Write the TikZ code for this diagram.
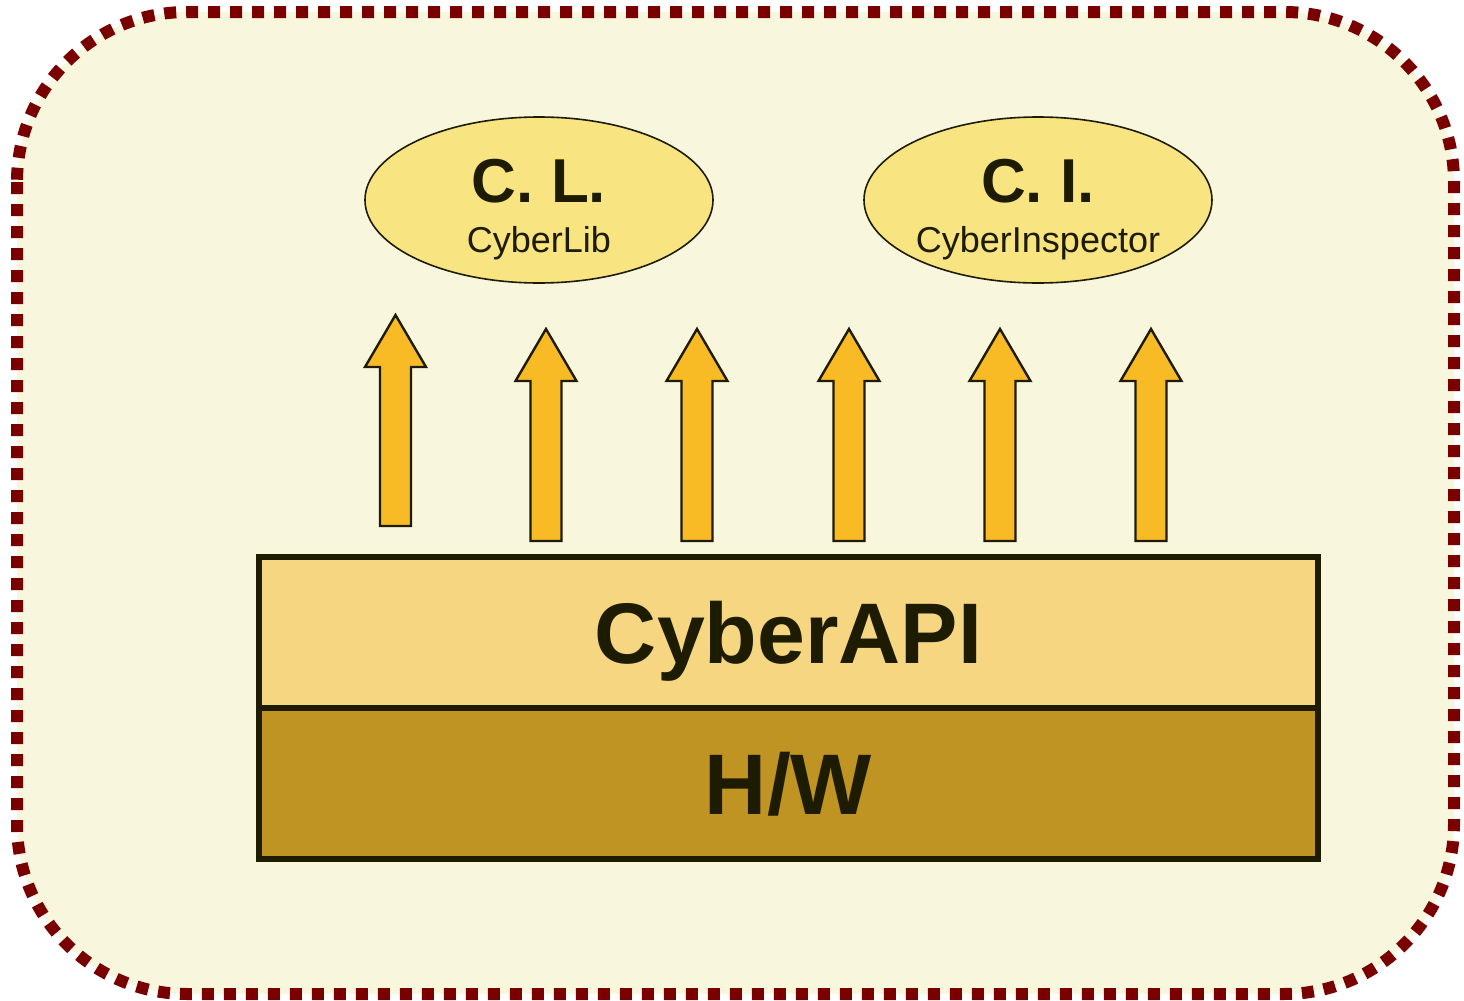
\documentclass[tikz,border=0pt]{standalone}
\usepackage{fontspec}
\setmainfont{Liberation Sans}
\usepackage{tikz}
\usetikzlibrary{positioning,shapes.geometric}

\definecolor{frameRed}{RGB}{122,0,0}
\definecolor{paperBg}{RGB}{248,247,222}
\definecolor{inkDark}{RGB}{30,28,0}
\definecolor{bubbleFill}{RGB}{248,228,128}
\definecolor{arrowFill}{RGB}{248,186,37}
\definecolor{apiFill}{RGB}{246,214,128}
\definecolor{hwFill}{RGB}{192,148,34}

\begin{document}
\begin{tikzpicture}[x=0.5pt,y=-0.5pt,
    layer/.style={draw=inkDark,line width=3pt,minimum width=529.5pt,minimum height=75.5pt,
      inner sep=0pt,outer sep=0pt,text depth=0pt,text=inkDark,font=\bfseries\fontsize{43}{43}\selectfont},
    bubble/.style={ellipse,draw=inkDark,line width=0.8pt,fill=bubbleFill,
      minimum width=174pt,minimum height=83pt,inner sep=0pt},
    bigtag/.style={anchor=base,text=inkDark,font=\bfseries\fontsize{31}{31}\selectfont},
    smalltag/.style={anchor=base,text=inkDark,font=\fontsize{18}{18}\selectfont}]
	\useasboundingbox (0,0) rectangle (1464,1001);
	
	% cadre
	\fill[paperBg,rounded corners=85pt] (17,12) rectangle (1454,994);
	\draw[frameRed,line width=6pt,dash pattern=on 6pt off 5pt,rounded corners=85pt] (17,12) rectangle (1454,994);
	
	% couches
	\node[layer,fill=apiFill] (api) at (788.5,632) {CyberAPI};
	\node[layer,fill=hwFill,below=0pt of api] (hw) {H/W};
	\draw[inkDark,line width=3pt] (api.south west) -- (api.south east);
	
	% bibliothèques
	\node[bubble] (cl) at (539,200) {};
	\node[bubble] (ci) at (1038,200) {};
	\node[bigtag] (cl-big) at (539,202) {C. L.};
	\node[smalltag] (cl-small) at (539,252) {CyberLib};
	\node[bigtag] (ci-big) at (1038,202) {C. I.};
	\node[smalltag] (ci-small) at (1038,252) {CyberInspector};
	
	% flèches
	\foreach \x/\ya/\yb in {395.5/315/526, 546/329/541, 697/329/541, 849/329/541, 1000/329/541, 1151/329/541} {
		\draw[draw=inkDark,fill=arrowFill,line width=1.2pt,line join=miter]
			(\x-15.5,\yb) -- (\x+15.5,\yb) -- (\x+15.5,\ya+52) -- (\x+30.5,\ya+52)
			-- (\x,\ya) -- (\x-30.5,\ya+52) -- (\x-15.5,\ya+52) -- cycle;
	}
\end{tikzpicture}
\end{document}
